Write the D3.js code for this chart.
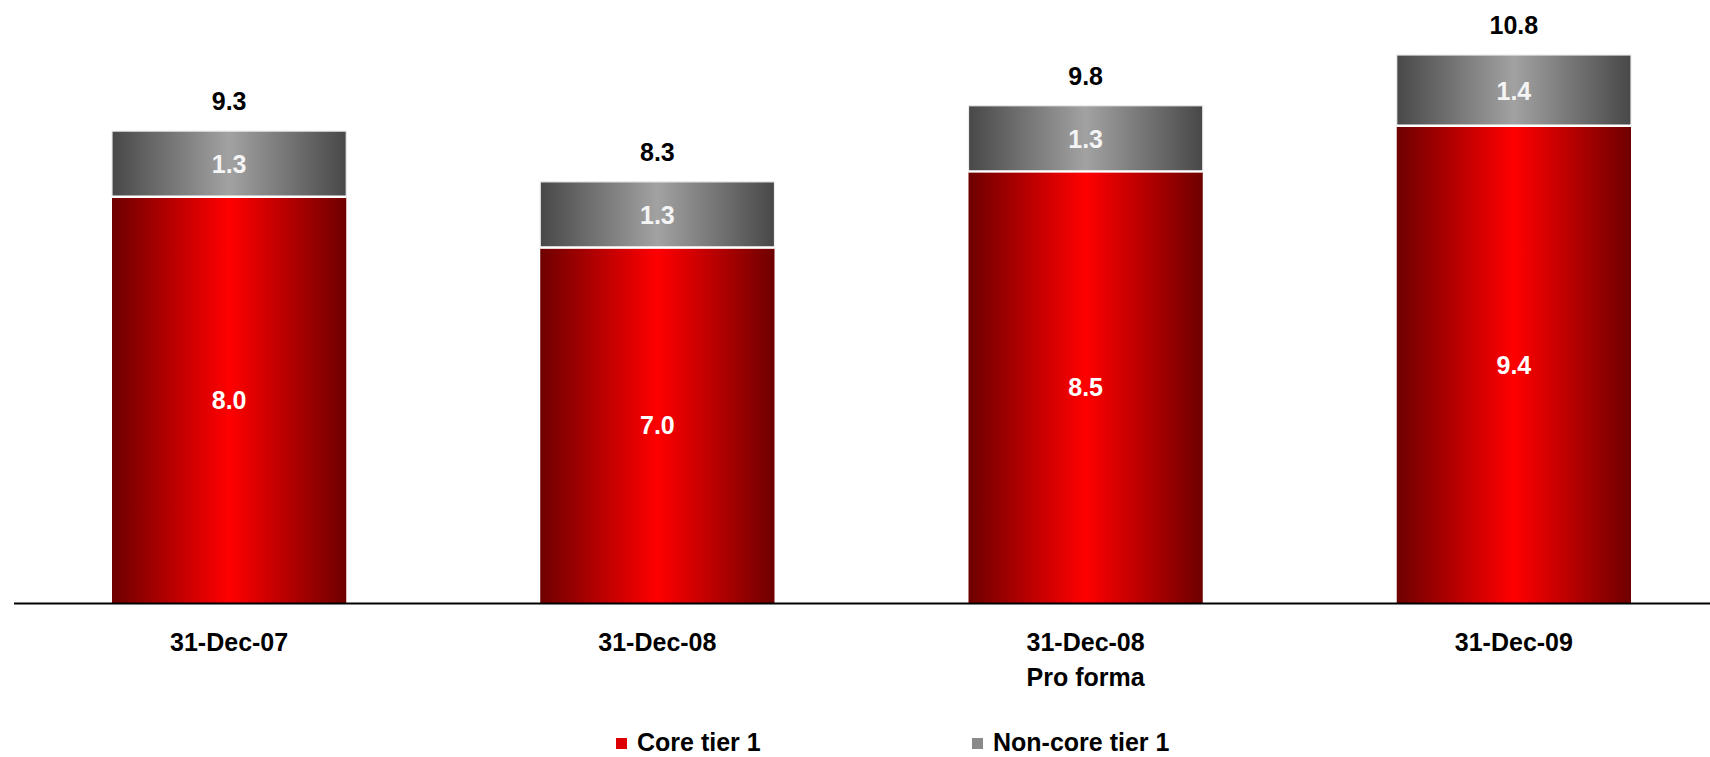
<!DOCTYPE html>
<html>
<head>
<meta charset="utf-8">
<script src="https://cdn.jsdelivr.net/npm/d3@7"></script>
<style>
  html, body { margin: 0; padding: 0; background: #fff; }
  svg { display: block; font-family: "Liberation Sans", Arial, sans-serif; font-weight: bold; }
</style>
</head>
<body>
<svg id="chart" width="1710" height="757"></svg>
<script>
const categories = ["31-Dec-07", "31-Dec-08", "31-Dec-08\nPro forma", "31-Dec-09"];
const coreTier1 = [8.0, 7.0, 8.5, 9.4];
const nonCoreTier1 = [1.3, 1.3, 1.3, 1.4];
const totals = [9.3, 8.3, 9.8, 10.8];
const seriesNames = ["Core tier 1", "Non-core tier 1"];

const W = 1710, H = 757;
const svg = d3.select("#chart");

const defs = svg.append("defs");
function hGrad(id, edge, mid) {
  const g = defs.append("linearGradient").attr("id", id)
    .attr("x1", "0%").attr("x2", "100%").attr("y1", "0%").attr("y2", "0%");
  g.append("stop").attr("offset", "0%").attr("stop-color", edge);
  g.append("stop").attr("offset", "50%").attr("stop-color", mid);
  g.append("stop").attr("offset", "100%").attr("stop-color", edge);
}
hGrad("gRed", "#6e0000", "#ff0000");
hGrad("gGray", "#484848", "#a2a2a2");

const x = d3.scaleBand().domain(categories).range([15, 1728])
  .paddingInner(0.453).paddingOuter(0.2265);
const y = d3.scaleLinear().domain([0, d3.max(totals)]).range([603, 55]);

const rows = categories.map((c, i) => ({ c, core: coreTier1[i], non: nonCoreTier1[i], total: totals[i] }));

// core bars
svg.append("g").selectAll("rect").data(rows).join("rect")
  .attr("x", d => x(d.c)).attr("width", x.bandwidth())
  .attr("y", d => y(d.core)).attr("height", d => y(0) - y(d.core))
  .attr("fill", "url(#gRed)");

// non-core bars
svg.append("g").selectAll("rect").data(rows).join("rect")
  .attr("x", d => x(d.c)).attr("width", x.bandwidth())
  .attr("y", d => y(d.core + d.non)).attr("height", d => y(d.core) - y(d.core + d.non))
  .attr("fill", "url(#gGray)")
  .attr("stroke", "#ececec").attr("stroke-width", 1.2);

// white separator between segments
svg.append("g").selectAll("line").data(rows).join("line")
  .attr("x1", d => x(d.c)).attr("x2", d => x(d.c) + x.bandwidth())
  .attr("y1", d => y(d.core) - 0.3).attr("y2", d => y(d.core) - 0.3)
  .attr("stroke", "#fff").attr("stroke-width", 2.4);

// axis line
svg.append("line").attr("x1", 14).attr("x2", W).attr("y1", 603.5).attr("y2", 603.5)
  .attr("stroke", "#000").attr("stroke-width", 2);

// value labels inside core
svg.append("g").selectAll("text").data(rows).join("text")
  .attr("x", d => x(d.c) + x.bandwidth() / 2)
  .attr("y", d => (y(d.core) + y(0)) / 2)
  .attr("dy", "0.36em")
  .attr("text-anchor", "middle").attr("fill", "#fff").attr("font-size", 25)
  .text(d => d.core.toFixed(1));

// value labels inside non-core
svg.append("g").selectAll("text").data(rows).join("text")
  .attr("x", d => x(d.c) + x.bandwidth() / 2)
  .attr("y", d => (y(d.core) + y(d.core + d.non)) / 2)
  .attr("dy", "0.36em")
  .attr("text-anchor", "middle").attr("fill", "#f4f4f4").attr("font-size", 25)
  .text(d => d.non.toFixed(1));

// totals
svg.append("g").selectAll("text").data(rows).join("text")
  .attr("x", d => x(d.c) + x.bandwidth() / 2)
  .attr("y", d => y(d.total) - 21)
  .attr("text-anchor", "middle").attr("fill", "#000").attr("font-size", 25)
  .text(d => d.total.toFixed(1));

// category labels
const cl = svg.append("g").selectAll("text").data(rows).join("text")
  .attr("text-anchor", "middle").attr("fill", "#000").attr("font-size", 25);
cl.each(function(d) {
  const t = d3.select(this);
  d.c.split("\n").forEach((line, k) => {
    t.append("tspan").attr("x", x(d.c) + x.bandwidth() / 2)
      .attr("y", 651 + k * 35).text(line);
  });
});

// legend
const legend = [
  { name: seriesNames[0], fill: "#dd0000", x: 616 },
  { name: seriesNames[1], fill: "#8a8a8a", x: 972 }
];
const lg = svg.append("g").selectAll("g").data(legend).join("g");
lg.append("rect").attr("x", d => d.x).attr("y", 738).attr("width", 11).attr("height", 11)
  .attr("fill", d => d.fill);
lg.append("text").attr("x", d => d.x + 21).attr("y", 751)
  .attr("font-size", 25).attr("fill", "#000").text(d => d.name);
</script>
</body>
</html>
